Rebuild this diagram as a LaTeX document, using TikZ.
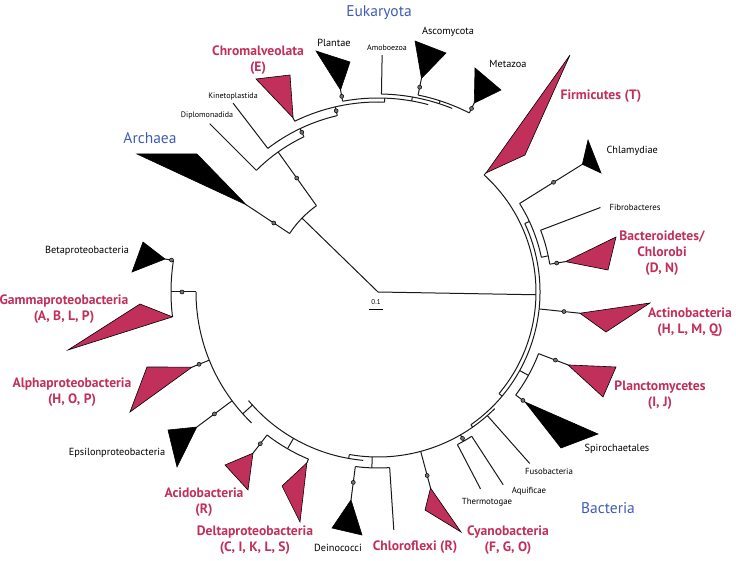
\documentclass[tikz,border=0pt]{standalone}
\usepackage{fontspec}
\setmainfont{PT Sans}
\usetikzlibrary{calc}

\definecolor{cladered}{HTML}{C1305B}
\definecolor{taxblue}{HTML}{3F5CB4}

\tikzset{
  branch/.style={line width=1pt, black!90},
  redclade/.style={draw=black, line width=0.6pt, fill=cladered},
  blackclade/.style={draw=black, line width=0.6pt, fill=black},
  redlab/.style={text=cladered, font=\bfseries\fontsize{13.6}{16}\selectfont, align=center},
  taxlab/.style={font=\fontsize{10.3}{12}\selectfont},
  smalllab/.style={font=\fontsize{8.8}{10}\selectfont},
  tinylab/.style={font=\fontsize{8}{9}\selectfont},
  domainlab/.style={text=taxblue, font=\fontsize{15.5}{18}\selectfont},
}

% arc at radius #3 from angle #1 to #2, radial line at angle #1 from #2 to #3, dot
\newcommand{\brarc}[3]{\draw[branch] ($(O)+(#1:#3)$) arc[start angle=#1,end angle=#2,radius=#3];}
\newcommand{\brrad}[3]{\draw[branch] ($(O)+(#1:#2)$) -- ($(O)+(#1:#3)$);}
\newcommand{\brdot}[2]{\filldraw[draw=black, fill=black!55, line width=0.5pt] ($(O)+(#1:#2)$) circle[radius=2];}

\begin{document}
\begin{tikzpicture}[x=1pt,y=1pt]
  \useasboundingbox (0,0) rectangle (736,560);
  \coordinate (O) at (378,268);

  % Root
  \brrad{135.8}{0}{106}
  \brrad{-1}{0}{158}

  % Archaea / Eukaryota
  \brarc{125.5}{146.5}{106}
  \brrad{146.5}{106}{158} \brdot{146.5}{125}
  \brrad{125.5}{106}{172} \brdot{125.5}{140}
  \brarc{115.5}{135}{172}
  \brrad{135}{172}{238}
  \brrad{115.5}{172}{181} \brdot{115.5}{177}
  \brarc{103}{127.5}{181}
  \brrad{127.5}{181}{238}
  \brrad{103}{181}{190} \brdot{103}{186}
  \brarc{88}{116}{190}
  \brrad{116}{190}{193.6}
  \brrad{88}{190}{194}
  \brarc{75}{100.5}{194}
  \brrad{100.5}{194}{205.5} \brdot{100.5}{199}
  \brrad{80}{194}{198}
  \brarc{68}{89}{198}
  \brrad{89}{198}{237}
  \brrad{72}{198}{201}
  \brarc{63}{78.5}{201}
  \brrad{78.5}{201}{218} \brdot{78.5}{209}
  \brrad{63}{201}{212} \brdot{63}{206}

  % Bacteria
  \brarc{-40}{47.8}{158}
  \brrad{47.8}{158}{160.7}
  \brrad{-40}{158}{162}
  \brarc{-55}{25}{162}
  \brrad{25}{162}{167}
  \brarc{12}{32}{167}
  \brrad{32}{167}{241} \brdot{32}{207}
  \brrad{12}{167}{174}
  \brarc{9.2}{20.8}{174}
  \brrad{20.8}{174}{238}
  \brrad{9.2}{174}{190} \brdot{9.2}{181}
  \brrad{-6}{162}{203} \brdot{-6}{187}
  \brrad{-29}{162}{172}
  \brarc{-36.8}{-21}{172}
  \brrad{-21}{172}{203.5} \brdot{-21}{190}
  \brrad{-36.8}{172}{183.6} \brdot{-36.8}{181}
  \brrad{-55}{162}{165}
  \brarc{-100}{-45}{165}
  \brrad{-48.5}{165}{229}
  \brrad{-60}{165}{172} \brdot{-60}{169}
  \brarc{-62.5}{-57}{172}
  \brrad{-57}{172}{230}
  \brrad{-62.5}{172}{222}
  \brrad{-75}{165}{203} \brdot{-75}{190}
  \brrad{-92}{165}{176}
  \brarc{-97.4}{-86.2}{176}
  \brrad{-86.2}{176}{238.5}
  \brrad{-97.4}{176}{209.7} \brdot{-97.4}{192}
  \brrad{-100}{165}{169}
  \brarc{-140}{-95}{169}
  \brrad{-120}{169}{181}
  \brarc{-127.8}{-112.6}{181}
  \brrad{-112.6}{181}{185}
  \brrad{-127.8}{181}{204} \brdot{-127.8}{192}
  \brrad{-138}{169}{182}
  \brarc{-180}{-134}{182}
  \brrad{-143.3}{182}{226} \brdot{-143.3}{204}
  \brrad{-158}{182}{200.5} \brdot{-158}{193}
  \brrad{-180}{182}{207} \brdot{-180}{196}
  \brarc{171.2}{186.9}{207}
  \brrad{171.2}{207}{215.5} \brdot{171.2}{209}

  % Collapsed clades
  \draw[blackclade] ($(O)+(146.5:158)$) -- (137,406) -- (197,406) -- cycle;
  \draw[redclade] ($(O)+(116:193.6)$) -- (256,481) -- (290,485) -- cycle;
  \draw[blackclade] ($(O)+(100.5:205.5)$) -- (316,509) -- (350,498) -- cycle;
  \draw[blackclade] ($(O)+(78.5:218)$) -- (415,519) -- (446,507) -- cycle;
  \draw[blackclade] ($(O)+(63:212)$) -- (475,492) -- (501,470) -- cycle;
  \draw[redclade] ($(O)+(47.8:160.7)$) -- (570,505) -- (525,405) -- cycle;
  \draw[blackclade] ($(O)+(32:241)$) -- (588,420) -- (601,387) -- cycle;
  \draw[redclade] ($(O)+(9.2:190)$) -- (616,323) -- (608,290) -- cycle;
  \draw[redclade] ($(O)+(-6:203)$) -- (650,257) -- (606,228) -- cycle;
  \draw[redclade] ($(O)+(-21:203.5)$) -- (616,193) -- (603,163) -- cycle;
  \draw[blackclade] ($(O)+(-36.8:183.6)$) -- (598,126) -- (561,112) -- cycle;
  \draw[redclade] ($(O)+(-75:203)$) -- (425,50) -- (461,28) -- cycle;
  \draw[blackclade] ($(O)+(-97.4:209.7)$) -- (332,32) -- (362,25) -- cycle;
  \draw[redclade] ($(O)+(-112.6:185)$) -- (282,74) -- (300,38) -- cycle;
  \draw[redclade] ($(O)+(-127.8:204)$) -- (225,95) -- (248,70) -- cycle;
  \draw[blackclade] ($(O)+(-143.3:226)$) -- (168,130) -- (177,93) -- cycle;
  \draw[redclade] ($(O)+(-158:200.5)$) -- (147,193) -- (130,148) -- cycle;
  \draw[redclade] ($(O)+(186.9:207)$) -- (140,256) -- (68,210) -- cycle;
  \draw[blackclade] ($(O)+(171.2:215.5)$) -- (143,318) -- (132,288) -- cycle;

  % Domain labels
  \node[domainlab] (eukaryota) at (379,547) {Eukaryota};
  \node[domainlab] (archaea) at (150,422) {Archaea};
  \node[domainlab] (bacteria) at (608,52) {Bacteria};

  % Labels
  \node[redlab] (chromalveolata) at (258,500) {Chromalveolata\\(E)};
  \node[redlab] (firmicutes) at (601,464) {Firmicutes (T)};
  \node[redlab] (bacteroidetes) at (662,307) {Bacteroidetes/\\Chlorobi\\(D, N)};
  \node[redlab] (actinobacteria) at (690,238) {Actinobacteria\\(H, L, M, Q)};
  \node[redlab] (planctomycetes) at (660,165) {Planctomycetes\\(I, J)};
  \node[redlab] (cyanobacteria) at (508,19.5) {Cyanobacteria\\(F, G, O)};
  \node[redlab] (chloroflexi) at (415,13) {Chloroflexi (R)};
  \node[redlab] (deltaproteo) at (255,19.5) {Deltaproteobacteria\\(C, I, K, L, S)};
  \node[redlab] (acidobacteria) at (204,57.5) {Acidobacteria\\(R)};
  \node[redlab] (alphaproteo) at (72,167.5) {Alphaproteobacteria\\(H, O, P)};
  \node[redlab] (gammaproteo) at (64,251) {Gammaproteobacteria\\(A, B, L, P)};

  \node[taxlab] (plantae) at (334,517) {Plantae};
  \node[tinylab] (amoboezoa) at (387,512) {Amoboezoa};
  \node[taxlab] (ascomycota) at (448,528) {Ascomycota};
  \node[taxlab] (metazoa) at (508,496) {Metazoa};
  \node[tinylab] (kinetoplastida) at (233,464) {Kinetoplastida};
  \node[tinylab] (diplomonadida) at (207,445) {Diplomonadida};
  \node[taxlab, anchor=west] (chlamydiae) at (603,409) {Chlamydiae};
  \node[smalllab, anchor=west] (fibrobacteres) at (606,353) {Fibrobacteres};
  \node[taxlab] (spirochaetales) at (617,111) {Spirochaetales};
  \node[smalllab] (fusobacteria) at (549,89) {Fusobacteria};
  \node[smalllab] (aquificae) at (529,69) {Aquificae};
  \node[smalllab] (thermotogae) at (487,58) {Thermotogae};
  \node[taxlab] (deinococci) at (338,12) {Deinococci};
  \node[taxlab] (epsilonproteo) at (117,107) {Epsilonproteobacteria};
  \node[taxlab] (betaproteo) at (87,309) {Betaproteobacteria};

  % Scale bar
  \node[font=\fontsize{7}{8}\selectfont] (scale) at (376,258) {0.1};
  \draw[line width=0.6pt] (369,251) -- (383,251);
\end{tikzpicture}
\end{document}
